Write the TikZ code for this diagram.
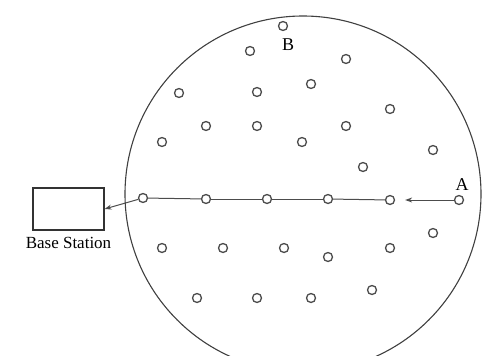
\documentclass[tikz,border=0pt]{standalone}
\usepackage{fontspec}
\setmainfont{Liberation Serif}
\usepackage{tikz}
\usetikzlibrary{arrows.meta,positioning}

\begin{document}
\begin{tikzpicture}[x=1pt, y=-1pt, every node/.style={font=\fontsize{18}{20}\selectfont},
  sensor/.style={draw=black!70, circle, line width=1.3pt, minimum size=9pt, inner sep=0pt, fill=white},
  bsbox/.style={draw=black!80, line width=1.1pt, minimum width=71pt, minimum height=42pt},
  field/.style={draw=black!75, circle, line width=1.1pt, minimum size=356pt, inner sep=0pt},
  link/.style={draw=black!70, line width=1pt},
  arr/.style={-{Stealth[length=7pt, width=5pt]}, link}]
\useasboundingbox (0,0) rectangle (482,356);
% Sensing field
\node[field] (area) at (303,194) {};
% Base station
\node[bsbox] (bs) at (68.5,209) {};
\node[below=3pt of bs.south, font=\fontsize{17}{19}\selectfont] (bslabel) {Base Station};
% Upper sensors
\node[sensor] (b) at (283,26) {};
\node[below=4pt of b, xshift=5pt] (blabel) {B};
\node[sensor] (u1) at (250,51) {};
\node[sensor] (u2) at (346,59) {};
\node[sensor] (u3) at (311,84) {};
\node[sensor] (u4) at (257,92) {};
\node[sensor] (u5) at (179,93) {};
\node[sensor] (u6) at (390,109) {};
\node[sensor] (u7) at (206,126) {};
\node[sensor] (u8) at (257,126) {};
\node[sensor] (u9) at (346,126) {};
\node[sensor] (u10) at (162,142) {};
\node[sensor] (u11) at (302,142) {};
\node[sensor] (u12) at (433,150) {};
\node[sensor] (u13) at (363,167) {};
% Routing chain A -> base station
\node[sensor] (r1) at (143,198) {};
\node[sensor] (r2) at (206,199) {};
\node[sensor] (r3) at (267,199) {};
\node[sensor] (r4) at (328,199) {};
\node[sensor] (r5) at (390,200) {};
\node[sensor] (a) at (459,200) {};
\node[above=1pt of a, xshift=3pt] (alabel) {A};
\draw[arr, shorten >=10pt] (a) -- (r5);
\draw[link] (r5) -- (r4);
\draw[link] (r4) -- (r3);
\draw[link] (r3) -- (r2);
\draw[link] (r2) -- (r1);
\draw[arr] (r1) -- (bs.east);
% Lower sensors
\node[sensor] (l1) at (162,248) {};
\node[sensor] (l2) at (223,248) {};
\node[sensor] (l3) at (284,248) {};
\node[sensor] (l4) at (328,257) {};
\node[sensor] (l5) at (390,248) {};
\node[sensor] (l6) at (433,233) {};
\node[sensor] (l7) at (197,298) {};
\node[sensor] (l8) at (257,298) {};
\node[sensor] (l9) at (311,298) {};
\node[sensor] (l10) at (372,290) {};
\end{tikzpicture}
\end{document}
